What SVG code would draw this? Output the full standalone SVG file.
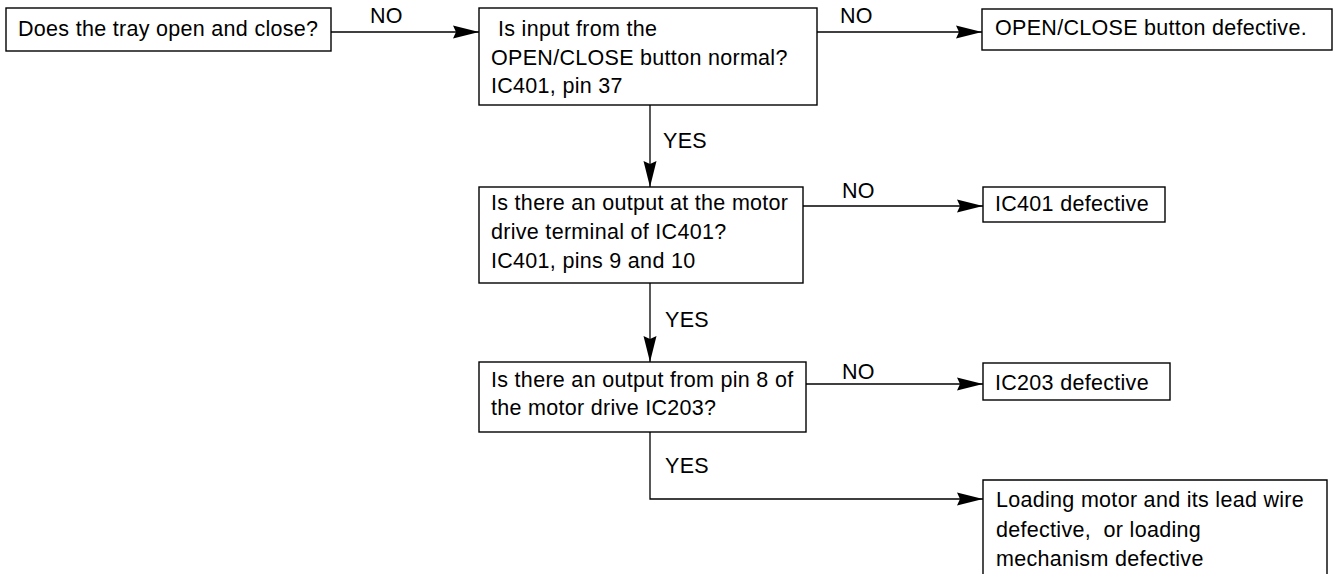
<svg xmlns="http://www.w3.org/2000/svg" width="1336" height="574" viewBox="0 0 1336 574">
<style>
  .box { fill: #fff; stroke: #000; stroke-width: 1.4; }
  .t { font-family: "Liberation Sans", Arial, sans-serif; font-size: 21.5px; letter-spacing: 0.3px; fill: #000; }
  .c { fill: none; stroke: #000; stroke-width: 1.3; }
</style>
<defs>
  <marker id="ah" markerUnits="userSpaceOnUse" markerWidth="26" markerHeight="14" refX="26" refY="7" orient="auto">
    <path d="M0,0.5 L26,7 L0,13.5 L3,7 Z" fill="#000"/>
  </marker>
</defs>
<rect width="1336" height="574" fill="#fff"/>
<g id="connectors">
  <line class="c" x1="331" y1="32" x2="479" y2="32" marker-end="url(#ah)"/>
  <line class="c" x1="817" y1="32" x2="982" y2="32" marker-end="url(#ah)"/>
  <line class="c" x1="650" y1="105" x2="650" y2="187" marker-end="url(#ah)"/>
  <line class="c" x1="803" y1="206" x2="983" y2="206" marker-end="url(#ah)"/>
  <line class="c" x1="650" y1="283" x2="650" y2="362" marker-end="url(#ah)"/>
  <line class="c" x1="806" y1="384" x2="983" y2="384" marker-end="url(#ah)"/>
  <polyline class="c" points="650,432 650,499 983,499" marker-end="url(#ah)"/>
  <text class="t" x="370" y="23">NO</text>
  <text class="t" x="840" y="23">NO</text>
  <text class="t" x="663" y="148">YES</text>
  <text class="t" x="842" y="198">NO</text>
  <text class="t" x="665" y="327">YES</text>
  <text class="t" x="842" y="379">NO</text>
  <text class="t" x="665" y="473">YES</text>
</g>
<g id="n1">
  <rect class="box" x="6" y="8" width="325" height="43"/>
  <text class="t" x="18" y="36">Does the tray open and close?</text>
</g>
<g id="n2">
  <rect class="box" x="479" y="8" width="338" height="97"/>
  <text class="t" x="498" y="36">Is input from the</text>
  <text class="t" x="491" y="65">OPEN/CLOSE button normal?</text>
  <text class="t" x="491" y="93">IC401, pin 37</text>
</g>
<g id="n3">
  <rect class="box" x="982" y="9" width="350" height="41"/>
  <text class="t" x="995" y="35">OPEN/CLOSE button defective.</text>
</g>
<g id="n4">
  <rect class="box" x="479" y="187" width="324" height="96"/>
  <text class="t" x="491" y="210">Is there an output at the motor</text>
  <text class="t" x="491" y="239">drive terminal of IC401?</text>
  <text class="t" x="491" y="268">IC401, pins 9 and 10</text>
</g>
<g id="n5">
  <rect class="box" x="983" y="187" width="182" height="35"/>
  <text class="t" x="995" y="211">IC401 defective</text>
</g>
<g id="n6">
  <rect class="box" x="479" y="362" width="327" height="70"/>
  <text class="t" x="491" y="387">Is there an output from pin 8 of</text>
  <text class="t" x="491" y="415">the motor drive IC203?</text>
</g>
<g id="n7">
  <rect class="box" x="983" y="363" width="187" height="37"/>
  <text class="t" x="995" y="390">IC203 defective</text>
</g>
<g id="n8">
  <path class="box" d="M983,580 L983,480 L1327,480 L1327,580"/>
  <text class="t" x="996" y="507">Loading motor and its lead wire</text>
  <text class="t" x="996" y="537" xml:space="preserve">defective,  or loading</text>
  <text class="t" x="996" y="566">mechanism defective</text>
</g>
</svg>
